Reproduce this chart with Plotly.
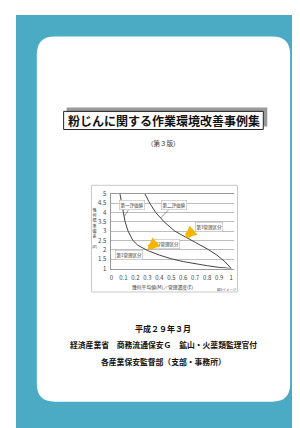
import plotly.graph_objects as go

# ---- data ----
x_ticks = [0, 0.1, 0.2, 0.3, 0.4, 0.5, 0.6, 0.7, 0.8, 0.9, 1]
x_tick_labels = ["0", "0.1", "0.2", "0.3", "0.4", "0.5", "0.6", "0.7", "0.8", "0.9", "1"]
y_ticks = [1, 1.5, 2, 2.5, 3, 3.5, 4, 4.5, 5]
y_tick_labels = ["1", "1.5", "2", "2.5", "3", "3.5", "4", "4.5", "5"]

curve1_x = [0.072, 0.085, 0.10, 0.115, 0.14, 0.18, 0.22, 0.30, 0.40, 0.50, 0.60, 0.70, 0.80, 0.90, 1.0]
curve1_y = [5.0, 4.5, 4.0, 3.5, 3.0, 2.5, 2.25, 1.97, 1.72, 1.52, 1.37, 1.25, 1.15, 1.06, 1.0]
curve2_x = [0.28, 0.32, 0.37, 0.44, 0.53, 0.62, 0.70, 0.80, 0.88, 0.95, 1.0]
curve2_y = [5.0, 4.5, 4.0, 3.5, 3.0, 2.7, 2.4, 2.05, 1.72, 1.35, 1.0]

arrow_x = [0.30, 0.61]
arrow_y = [2.0, 2.63]

curve_names = ["第一評価値", "第二評価値"]
zone_names = ["第1管理区分", "第2管理区分", "第3管理区分"]

W, H = 300, 428
OFF = 8  # page body margin
def px(x): return (x - OFF) / W
def py(y): return 1 - (y - OFF) / H

TEAL = "#4BAAC4"
FONT = "Noto Sans CJK JP"

fig = go.Figure()
fig.add_trace(go.Scatter(x=curve1_x, y=curve1_y, mode="lines",
                         line=dict(color="#444", width=1), hoverinfo="skip"))
fig.add_trace(go.Scatter(x=curve2_x, y=curve2_y, mode="lines",
                         line=dict(color="#444", width=1), hoverinfo="skip"))

shapes = []
shapes.append(dict(type="rect", xref="paper", yref="paper", x0=px(14), x1=px(320),
                   y0=py(450), y1=py(10), fillcolor=TEAL, line=dict(width=0), layer="below"))
L, R, T, B, r = 35, 290, 32, 405, 18
path = (f"M {px(L+r)},{py(T)} L {px(R-r)},{py(T)} Q {px(R)},{py(T)} {px(R)},{py(T+r)} "
        f"L {px(R)},{py(B-r)} Q {px(R)},{py(B)} {px(R-r)},{py(B)} "
        f"L {px(L+r)},{py(B)} Q {px(L)},{py(B)} {px(L)},{py(B-r)} "
        f"L {px(L)},{py(T+r)} Q {px(L)},{py(T)} {px(L+r)},{py(T)} Z")
shapes.append(dict(type="path", xref="paper", yref="paper", path=path,
                   fillcolor="white", line=dict(width=0), layer="below"))
shapes.append(dict(type="rect", xref="paper", yref="paper", x0=px(65), x1=px(267),
                   y0=py(124), y1=py(104.5), fillcolor="#9a9a9a", line=dict(width=0), layer="below"))
shapes.append(dict(type="rect", xref="paper", yref="paper", x0=px(62), x1=px(263),
                   y0=py(127), y1=py(108.5), fillcolor="white",
                   line=dict(color="#222", width=1), layer="below"))
shapes.append(dict(type="rect", xref="paper", yref="paper", x0=px(90), x1=px(237),
                   y0=py(293), y1=py(184), fillcolor="white",
                   line=dict(color="#c8c8c8", width=1), layer="below"))

ann = []
def ptext(text, x, y, size, color="#111"):
    ann.append(dict(text=text, x=px(x), y=py(y), xref="paper", yref="paper", showarrow=False,
                    xanchor="center", yanchor="middle",
                    font=dict(size=size, color=color, family=FONT)))

ptext("<b>粉じんに関する作業環境改善事例集</b>", 163, 118, 12)
ptext("（第３版）", 163, 141, 6.5, "#333")
ptext("<b>平成２９年３月</b>", 162, 330, 8)
ptext("<b>経済産業省　商務流通保安Ｇ　鉱山・火薬類監理官付</b>", 163, 347, 7.8)
ptext("<b>各産業保安監督部（支部・事務所）</b>", 163, 364, 7.8)
ptext("幾何平均値(M)／管理濃度(E)", 162, 288, 4.8, "#333")
ptext("図5イメージ", 226, 290, 3.5, "#555")
ann.append(dict(text="幾<br>何<br>標<br>準<br>偏<br>差<br><br>(σ)", x=px(93), y=py(228),
                xref="paper", yref="paper", showarrow=False, xanchor="center", yanchor="middle",
                font=dict(size=4.0, color="#333", family=FONT)))

lab_font = dict(size=4.5, color="#333", family=FONT)
for (cx, cy, lx, ly) in [(0.108, 3.78, 0.17, 4.42), (0.41, 3.7, 0.52, 4.42)]:
    ann.append(dict(text="", x=cx, y=cy, ax=lx, ay=ly, xref="x", yref="y", axref="x", ayref="y",
                    showarrow=True, arrowhead=0, arrowwidth=0.6, arrowcolor="#555",
                    standoff=0, startstandoff=0))
for name, xx, yy in [(curve_names[0], 0.17, 4.42), (curve_names[1], 0.52, 4.42),
                     (zone_names[0], 0.15, 1.73), (zone_names[1], 0.46, 2.30),
                     (zone_names[2], 0.815, 3.24)]:
    ann.append(dict(text=name, x=xx, y=yy, xref="x", yref="y", showarrow=False,
                    xanchor="center", yanchor="middle",
                    bgcolor="white", bordercolor="#aaa", borderwidth=0.5, borderpad=1, font=lab_font))
# yellow block arrows pointing down-left
for xx, yy in zip(arrow_x, arrow_y):
    ann.append(dict(text="", x=xx, y=yy, xref="x", yref="y", ax=8, ay=-7,
                    showarrow=True, arrowhead=2, arrowsize=0.4, arrowwidth=6,
                    arrowcolor="#F7B500", standoff=0, startstandoff=0))

fig.update_layout(
    width=W, height=H, margin=dict(l=0, r=0, t=0, b=0),
    paper_bgcolor="white", plot_bgcolor="rgba(0,0,0,0)",
    showlegend=False, shapes=shapes, annotations=ann,
    xaxis=dict(domain=[px(110), px(234)], range=[0, 1.027], tickvals=x_ticks,
               ticktext=x_tick_labels, showgrid=False, zeroline=False,
               showline=True, linecolor="#999", linewidth=0.8, mirror=True,
               ticks="", tickfont=dict(size=6, color="#444", family=FONT), ticklabelstandoff=3),
    yaxis=dict(domain=[py(269), py(192.7)], range=[1, 5], tickvals=y_ticks,
               ticktext=y_tick_labels, showgrid=True, gridcolor="#bdbdbd", gridwidth=0.6,
               zeroline=False, showline=True, linecolor="#999", linewidth=0.8,
               ticks="", tickfont=dict(size=6, color="#444", family=FONT), ticklabelstandoff=3),
    font=dict(family=FONT),
)

fig.write_html("out.html")
